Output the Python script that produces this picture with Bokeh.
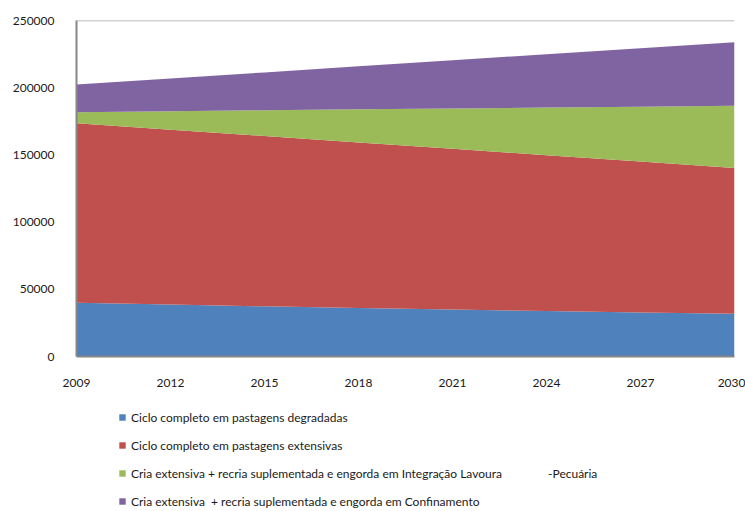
from bokeh.plotting import figure
from bokeh.layouts import column
from bokeh.models import (ColumnDataSource, Legend, LegendItem, Span,
                          FixedTicker, BasicTickFormatter, Range1d)
from bokeh.embed import file_html
from bokeh.resources import INLINE

# Herd projection by production system, 2009-2030
years = [2009, 2012, 2015, 2018, 2021, 2024, 2027, 2030]
degradadas = [40000, 38600, 37300, 36100, 34900, 33800, 32800, 31800]
extensivas = [133600, 130200, 126800, 123200, 119700, 116000, 112200, 108500]
ilp = [8200, 13700, 19100, 24600, 29900, 35400, 40900, 46300]
confinamento = [20600, 24400, 28200, 32000, 35900, 39700, 43500, 47300]

series_names = ["degradadas", "extensivas", "ilp", "confinamento"]
labels = [
    "Ciclo completo em pastagens degradadas",
    "Ciclo completo em pastagens extensivas",
    "Cria extensiva + recria suplementada e engorda em Integração Lavoura"
    + "\u00a0" * 15 + "-Pecuária",
    "Cria extensiva\u00a0 + recria suplementada e engorda em Confinamento",
]
colors = ["#4F81BD", "#C0504D", "#9BBB59", "#8064A2"]
x_ticks = [2009, 2012, 2015, 2018, 2021, 2024, 2027, 2030]
y_ticks = [0, 50000, 100000, 150000, 200000, 250000]

source = ColumnDataSource(dict(
    year=years, degradadas=degradadas, extensivas=extensivas,
    ilp=ilp, confinamento=confinamento,
))

FONT = "Lato"
TEXT = "#1a1a1a"
AXIS = "#868686"

# --- stacked area chart -------------------------------------------------
p = figure(width=745, height=400, output_backend="svg", toolbar_location=None,
           x_range=Range1d(years[0], years[-1]), y_range=Range1d(0, 250000),
           min_border_left=76, min_border_right=11, min_border_top=20,
           min_border_bottom=44)
p.outline_line_color = None
p.background_fill_color = "white"
p.border_fill_color = "white"
p.xgrid.visible = False
p.ygrid.visible = False

p.varea_stack(stackers=series_names, x="year", color=colors, source=source)

# top frame line
p.add_layout(Span(location=250000, dimension="width", line_color="#a6a6a6",
                  line_width=1.5))

for ax in (p.xaxis[0], p.yaxis[0]):
    ax.axis_line_color = AXIS
    ax.axis_line_width = 2
    ax.major_tick_line_color = None
    ax.minor_tick_line_color = None
    ax.major_label_text_font = FONT
    ax.major_label_text_font_size = "12px"
    ax.major_label_text_color = TEXT

p.xaxis.ticker = FixedTicker(ticks=x_ticks)
p.xaxis.major_label_standoff = 16
p.yaxis.ticker = FixedTicker(ticks=y_ticks)
p.yaxis.formatter = BasicTickFormatter(use_scientific=False)
p.yaxis.major_label_standoff = 16

# --- legend strip under the chart -----------------------------------------
# the key figure reuses the stack, but its y range lies below zero so the
# areas themselves stay out of view and only the legend swatches show
pl = figure(width=745, height=111, output_backend="svg", toolbar_location=None,
            x_range=Range1d(years[0], years[-1]), y_range=Range1d(-2, -1),
            x_axis_type=None, y_axis_type=None, min_border=0,
            min_border_left=76, min_border_right=11)
pl.outline_line_color = None
pl.xgrid.visible = False
pl.ygrid.visible = False
pl.border_fill_color = "white"
pl.background_fill_color = "white"
key_renderers = pl.varea_stack(stackers=series_names, x="year", color=colors,
                               source=source)

legend = Legend(
    items=[LegendItem(label=lab, renderers=[r])
           for lab, r in zip(labels, key_renderers)],
    orientation="vertical", location=(42, 0),
    border_line_color=None, background_fill_alpha=0,
    padding=0, margin=0, spacing=8,
    label_height=20, glyph_width=8, glyph_height=8, label_standoff=5,
    label_text_font=FONT, label_text_font_size="12px", label_text_color=TEXT,
)
pl.add_layout(legend, "center")

layout = column(p, pl, spacing=0)
open("out.html", "w").write(file_html(layout, INLINE))
